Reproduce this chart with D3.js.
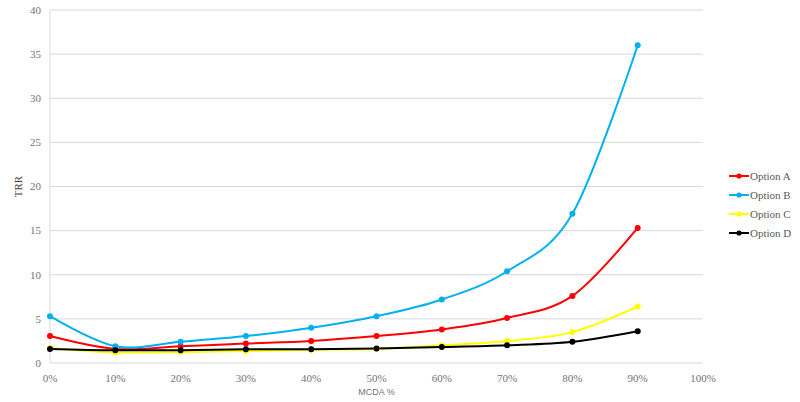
<!DOCTYPE html>
<html>
<head>
<meta charset="utf-8">
<script src="https://cdn.jsdelivr.net/npm/d3@7"></script>
<style>
  body { margin: 0; background: #fff; }
  svg { display: block; }
</style>
</head>
<body>
<div id="chart"></div>
<script>
// data
const mcdaPct = [0, 10, 20, 30, 40, 50, 60, 70, 80, 90];
const optionA = [3.05, 1.6, 1.9, 2.2, 2.5, 3.05, 3.8, 5.1, 7.6, 15.3];
const optionB = [5.3, 1.9, 2.4, 3.05, 4.0, 5.3, 7.2, 10.4, 16.9, 36.0];
const optionC = [1.7, 1.2, 1.25, 1.35, 1.5, 1.6, 2.0, 2.5, 3.5, 6.4];
const optionD = [1.6, 1.45, 1.45, 1.55, 1.55, 1.65, 1.8, 2.0, 2.4, 3.6];
const seriesNames = ["Option A", "Option B", "Option C", "Option D"];
const seriesColors = ["#ff0000", "#00b0f0", "#ffff00", "#000000"];
const yTicks = [0, 5, 10, 15, 20, 25, 30, 35, 40];
const xTicks = [0, 10, 20, 30, 40, 50, 60, 70, 80, 90, 100];

const allSeries = [optionA, optionB, optionC, optionD].map((vals, i) => ({
  name: seriesNames[i],
  color: seriesColors[i],
  points: vals.map((v, j) => ({ x: mcdaPct[j], y: v }))
}));

const W = 800, H = 402;
const margin = { top: 10, right: 97, bottom: 39, left: 50 };

const svg = d3.select("#chart").append("svg")
  .attr("width", W).attr("height", H);

const x = d3.scaleLinear().domain([0, 100]).range([margin.left, W - margin.right]);
const y = d3.scaleLinear().domain([0, 40]).range([H - margin.bottom, margin.top]);

// gridlines
svg.append("g")
  .selectAll("line")
  .data(yTicks)
  .join("line")
    .attr("x1", x(0)).attr("x2", x(100))
    .attr("y1", d => y(d)).attr("y2", d => y(d))
    .attr("stroke", "#d9d9d9").attr("stroke-width", 1);

// left axis line
svg.append("line")
  .attr("x1", x(0)).attr("x2", x(0))
  .attr("y1", y(40)).attr("y2", y(0))
  .attr("stroke", "#d9d9d9").attr("stroke-width", 1);

// y tick labels
svg.append("g")
  .selectAll("text")
  .data(yTicks)
  .join("text")
    .attr("x", x(0) - 9)
    .attr("y", d => y(d))
    .attr("dy", "0.35em")
    .attr("text-anchor", "end")
    .style("font-family", "'Liberation Serif', serif")
    .style("font-size", "11px")
    .style("fill", "#737373")
    .text(d => d);

// x tick labels
svg.append("g")
  .selectAll("text")
  .data(xTicks)
  .join("text")
    .attr("x", d => x(d))
    .attr("y", y(0) + 19)
    .attr("text-anchor", "middle")
    .style("font-family", "'Liberation Serif', serif")
    .style("font-size", "11px")
    .style("fill", "#737373")
    .text(d => d + "%");

// axis titles
svg.append("text")
  .attr("x", x(50))
  .attr("y", H - 7)
  .attr("text-anchor", "middle")
  .style("font-family", "'Liberation Sans', sans-serif")
  .style("font-size", "9px")
  .style("fill", "#737373")
  .text("MCDA %");

svg.append("text")
  .attr("transform", `translate(22,${y(20)}) rotate(-90)`)
  .attr("text-anchor", "middle")
  .style("font-family", "'Liberation Serif', serif")
  .style("font-size", "11px")
  .style("fill", "#404040")
  .text("TRR");

// lines
const line = d3.line()
  .x(d => x(d.x))
  .y(d => y(d.y))
  .curve(d3.curveCardinal.tension(0));

const g = svg.append("g");
allSeries.forEach(s => {
  g.append("path")
    .datum(s.points)
    .attr("d", line)
    .attr("fill", "none")
    .attr("stroke", s.color)
    .attr("stroke-width", 2);
});
allSeries.forEach(s => {
  g.selectAll(null)
    .data(s.points)
    .join("circle")
      .attr("cx", d => x(d.x))
      .attr("cy", d => y(d.y))
      .attr("r", 3)
      .attr("fill", s.color);
});

// legend
const legend = svg.append("g").attr("transform", "translate(729,176)");
allSeries.forEach((s, i) => {
  const row = legend.append("g").attr("transform", `translate(0,${i * 19})`);
  row.append("line")
    .attr("x1", 0).attr("x2", 20)
    .attr("stroke", s.color).attr("stroke-width", 2);
  row.append("circle").attr("cx", 10).attr("r", 2.6).attr("fill", s.color);
  row.append("text")
    .attr("x", 21).attr("dy", "0.35em")
    .style("font-family", "'Liberation Serif', serif")
    .style("font-size", "11px")
    .style("fill", "#595959")
    .text(s.name);
});
</script>
</body>
</html>
